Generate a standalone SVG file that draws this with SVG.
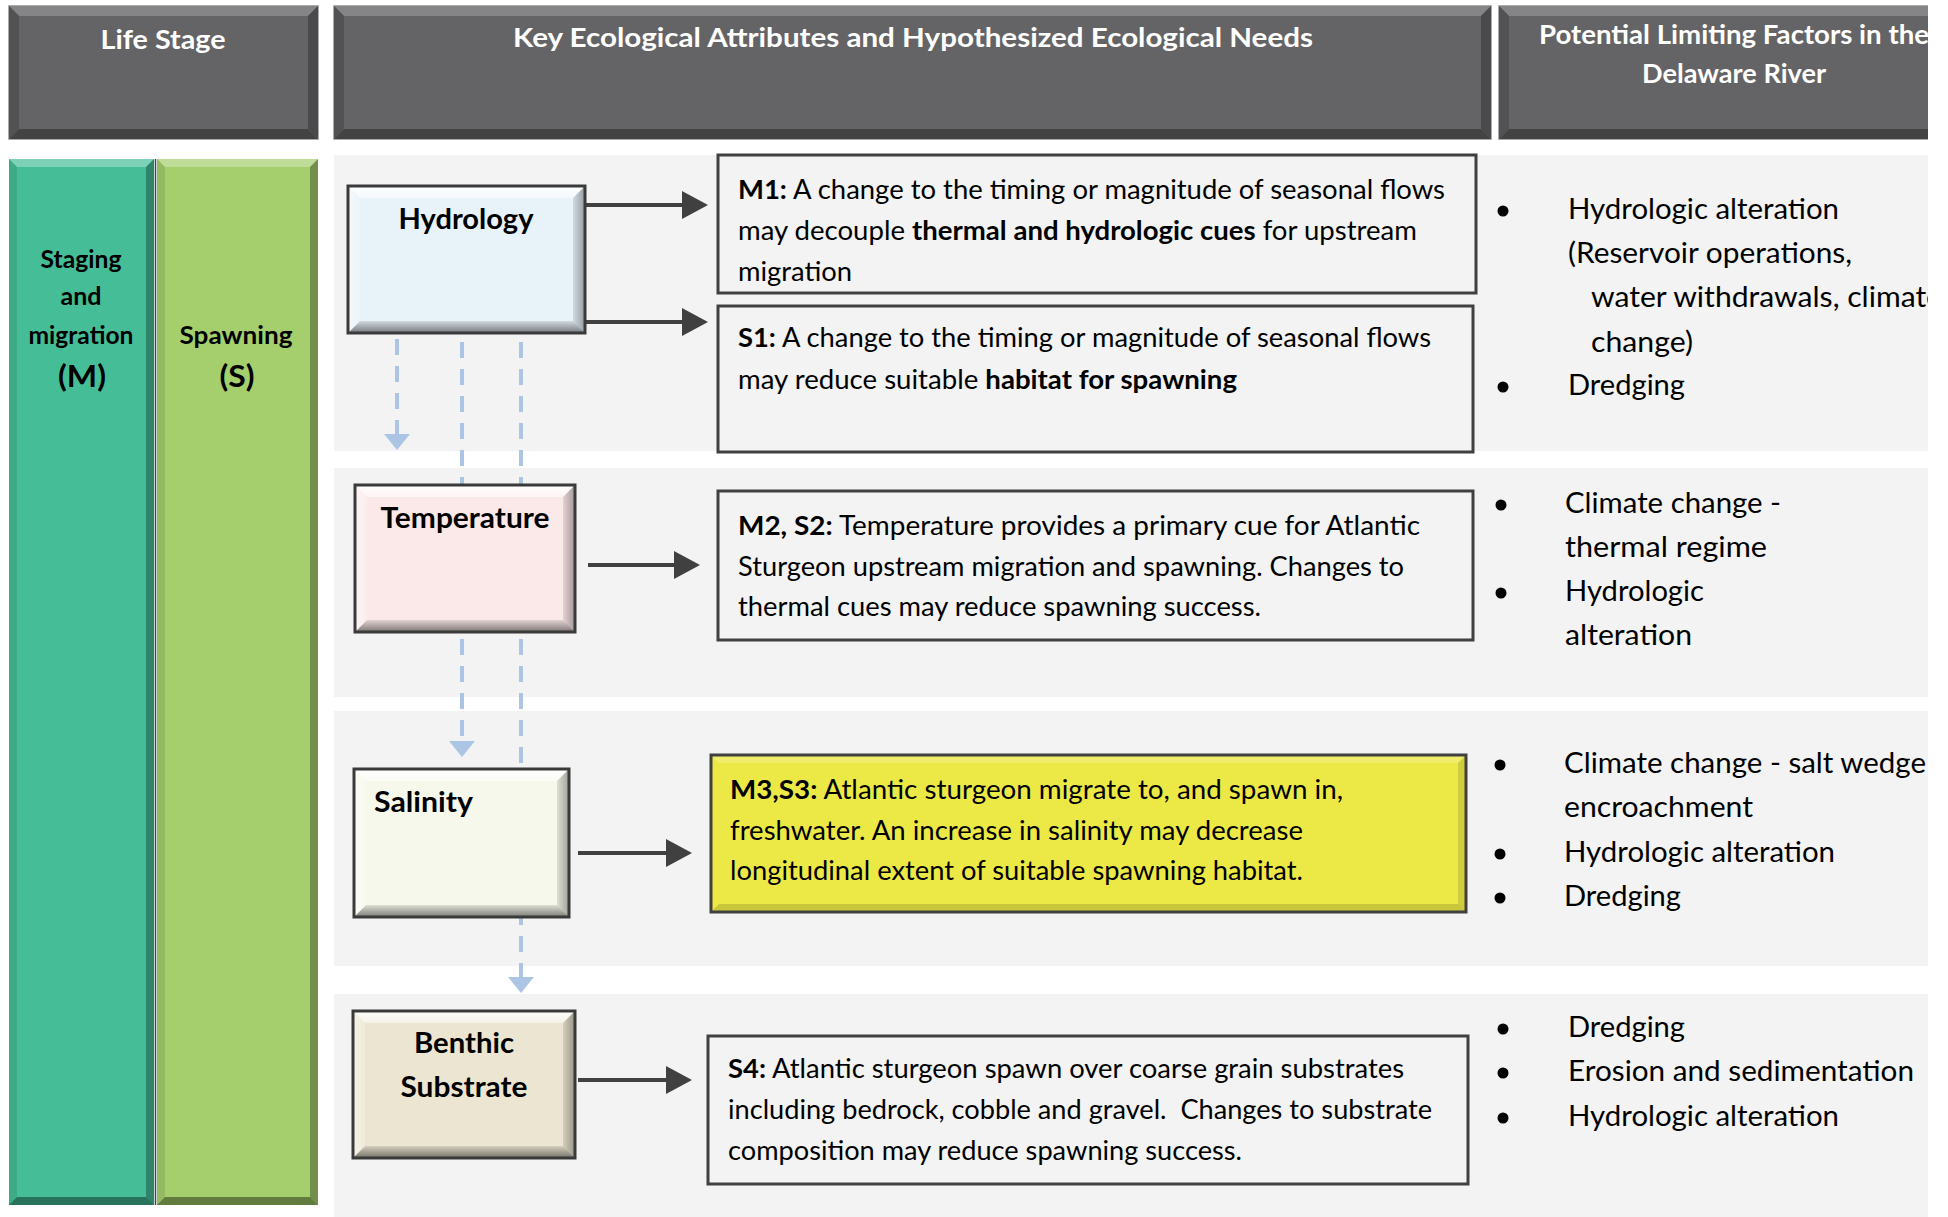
<svg xmlns="http://www.w3.org/2000/svg" width="1948" height="1217" viewBox="0 0 1948 1217">
<defs>
<style>
text{font-family:Lato,"Liberation Sans",sans-serif}
.ht{font-size:27px;font-weight:700;fill:#fff;text-anchor:middle}
.ct{font-size:24px;font-weight:700;fill:#000;text-anchor:middle}
.cp{font-size:30px;font-weight:700;fill:#000;text-anchor:middle}
.nt{font-size:28px;font-weight:700;fill:#000}
.mid{text-anchor:middle}
.bt{font-size:26px;fill:#000}
.lt{font-size:28px;fill:#000}
.b{font-weight:700}
.band{fill:#f2f3f2}
.desc{fill:none;stroke:#404040;stroke-width:3}
.obox{fill:none;stroke:#3a3a3a;stroke-width:3}
.nT{fill:url(#gT)}
.nB{fill:url(#gB)}
.nL{fill:url(#gL)}
.nR{fill:url(#gR)}
.hdr{fill:#646466;stroke:#8f8f90;stroke-width:1.5}
.hT{fill:#858587}
.hB{fill:#434344}
.hL{fill:#525254}
.hR{fill:#4a4a4c}
.cT{fill:#fff;fill-opacity:.3}
.cB{fill:#000;fill-opacity:.4}
.cL{fill:#000;fill-opacity:.1}
.cR{fill:#000;fill-opacity:.3}
.arrow{stroke:#404040;stroke-width:4;fill:none;marker-end:url(#ah)}
.dash{stroke:#adc5e4;stroke-width:4;stroke-dasharray:16 11;fill:none;marker-end:url(#dh)}
.bul{fill:#000}
</style>
<linearGradient id="gT" x1="0" y1="0" x2="0" y2="1"><stop offset="0" stop-color="#fff" stop-opacity=".95"/><stop offset="1" stop-color="#fff" stop-opacity=".5"/></linearGradient>
<linearGradient id="gB" x1="0" y1="0" x2="0" y2="1"><stop offset="0" stop-color="#000" stop-opacity=".1"/><stop offset="1" stop-color="#000" stop-opacity=".5"/></linearGradient>
<linearGradient id="gL" x1="0" y1="0" x2="1" y2="0"><stop offset="0" stop-color="#fff" stop-opacity=".5"/><stop offset="1" stop-color="#fff" stop-opacity=".2"/></linearGradient>
<linearGradient id="gR" x1="0" y1="0" x2="1" y2="0"><stop offset="0" stop-color="#000" stop-opacity=".1"/><stop offset="1" stop-color="#000" stop-opacity=".35"/></linearGradient>
<marker id="ah" markerUnits="userSpaceOnUse" markerWidth="26" markerHeight="28" refX="14" refY="14" orient="auto"><path d="M0,0 L26,14 L0,28 Z" fill="#404040"/></marker>
<marker id="dh" markerUnits="userSpaceOnUse" markerWidth="16" markerHeight="26" refX="6" refY="13" orient="auto"><path d="M0,0 L16,13 L0,26 Z" fill="#adc5e4"/></marker>
<clipPath id="clip"><rect x="0" y="0" width="1928" height="1217"/></clipPath>
</defs>
<rect x="0" y="0" width="1948" height="1217" fill="#fff"/>
<g clip-path="url(#clip)">

<g id="header-life-stage">
<rect class="hdr" x="9" y="6" width="309" height="133"/>
<polygon class="hT" points="9,6 318,6 308,16 19,16"/>
<polygon class="hB" points="9,139 318,139 308,129 19,129"/>
<polygon class="hL" points="9,6 19,16 19,129 9,139"/>
<polygon class="hR" points="318,6 308,16 308,129 318,139"/>
<text class="ht" x="163" y="49" textLength="125" lengthAdjust="spacingAndGlyphs">Life Stage</text>
</g>
<g id="header-key">
<rect class="hdr" x="334" y="6" width="1157" height="133"/>
<polygon class="hT" points="334,6 1491,6 1481,16 344,16"/>
<polygon class="hB" points="334,139 1491,139 1481,129 344,129"/>
<polygon class="hL" points="334,6 344,16 344,129 334,139"/>
<polygon class="hR" points="1491,6 1481,16 1481,129 1491,139"/>
<text class="ht" x="913" y="47" textLength="800" lengthAdjust="spacingAndGlyphs">Key Ecological Attributes and Hypothesized Ecological Needs</text>
</g>
<g id="header-limiting">
<rect class="hdr" x="1499" y="6" width="469" height="133"/>
<polygon class="hT" points="1499,6 1968,6 1958,16 1509,16"/>
<polygon class="hB" points="1499,139 1968,139 1958,129 1509,129"/>
<polygon class="hL" points="1499,6 1509,16 1509,129 1499,139"/>
<text class="ht" x="1734" y="44" textLength="390" lengthAdjust="spacingAndGlyphs">Potential Limiting Factors in the</text>
<text class="ht" x="1734" y="83" textLength="184" lengthAdjust="spacingAndGlyphs">Delaware River</text>
</g>

<g id="col-staging">
<rect x="9" y="159" width="145" height="1046" fill="#45be98"/>
<polygon class="cT" points="9,159 154,159 146,167 17,167"/>
<polygon class="cB" points="9,1205 154,1205 146,1197 17,1197"/>
<polygon class="cL" points="9,159 17,167 17,1197 9,1205"/>
<polygon class="cR" points="154,159 146,167 146,1197 154,1205"/>
<text class="ct" x="81" y="268" textLength="81" lengthAdjust="spacingAndGlyphs">Staging</text>
<text class="ct" x="81" y="305" textLength="41" lengthAdjust="spacingAndGlyphs">and</text>
<text class="ct" x="81" y="344" textLength="105" lengthAdjust="spacingAndGlyphs">migration</text>
<text class="cp" x="82" y="387" textLength="48" lengthAdjust="spacingAndGlyphs">(M)</text>
</g>
<g id="col-spawning">
<rect x="157" y="159" width="161" height="1046" fill="#a4cf6c"/>
<polygon class="cT" points="157,159 318,159 310,167 165,167"/>
<polygon class="cB" points="157,1205 318,1205 310,1197 165,1197"/>
<polygon class="cL" points="157,159 165,167 165,1197 157,1205"/>
<polygon class="cR" points="318,159 310,167 310,1197 318,1205"/>
<line x1="155.5" y1="159" x2="155.5" y2="1205" stroke="#2f4f40" stroke-width="1.5"/>
<text class="ct" x="236" y="344" textLength="113" lengthAdjust="spacingAndGlyphs">Spawning</text>
<text class="cp" x="237" y="387" textLength="35" lengthAdjust="spacingAndGlyphs">(S)</text>
</g>

<g id="bands">
<rect class="band" x="334" y="155" width="1594" height="296"/>
<rect class="band" x="334" y="468" width="1594" height="229"/>
<rect class="band" x="334" y="711" width="1594" height="255"/>
<rect class="band" x="334" y="994" width="1594" height="223"/>
</g>

<g id="connectors">
<path class="dash" d="M397,339 V440"/>
<path class="dash" d="M462,342 V747"/>
<path class="dash" d="M521,342 V983"/>
<path class="arrow" d="M585,205 H696"/>
<path class="arrow" d="M585,322 H696"/>
<path class="arrow" d="M588,565 H688"/>
<path class="arrow" d="M578,853 H680"/>
<path class="arrow" d="M578,1080 H680"/>
</g>

<g id="node-hydrology">
<rect x="348" y="186" width="237" height="147" fill="#e8f2f9"/>
<polygon class="nT" points="348,186 585,186 573,198 360,198"/>
<polygon class="nB" points="348,333 585,333 573,321 360,321"/>
<polygon class="nL" points="348,186 360,198 360,321 348,333"/>
<polygon class="nR" points="585,186 573,198 573,321 585,333"/>
<rect class="obox" x="348" y="186" width="237" height="147"/>
<text class="nt mid" x="466" y="229" textLength="135" lengthAdjust="spacingAndGlyphs">Hydrology</text>
</g>
<g id="node-temperature">
<rect x="355" y="485" width="220" height="147" fill="#fbe9e9"/>
<polygon class="nT" points="355,485 575,485 563,497 367,497"/>
<polygon class="nB" points="355,632 575,632 563,620 367,620"/>
<polygon class="nL" points="355,485 367,497 367,620 355,632"/>
<polygon class="nR" points="575,485 563,497 563,620 575,632"/>
<rect class="obox" x="355" y="485" width="220" height="147"/>
<text class="nt mid" x="465" y="528" textLength="169" lengthAdjust="spacingAndGlyphs">Temperature</text>
</g>
<g id="node-salinity">
<rect x="354" y="769" width="215" height="148" fill="#f6f8ec"/>
<polygon class="nT" points="354,769 569,769 557,781 366,781"/>
<polygon class="nB" points="354,917 569,917 557,905 366,905"/>
<polygon class="nL" points="354,769 366,781 366,905 354,917"/>
<polygon class="nR" points="569,769 557,781 557,905 569,917"/>
<rect class="obox" x="354" y="769" width="215" height="148"/>
<text class="nt" x="374" y="812" textLength="99" lengthAdjust="spacingAndGlyphs">Salinity</text>
</g>
<g id="node-benthic">
<rect x="353" y="1011" width="222" height="147" fill="#ebe5d1"/>
<polygon class="nT" points="353,1011 575,1011 563,1023 365,1023"/>
<polygon class="nB" points="353,1158 575,1158 563,1146 365,1146"/>
<polygon class="nL" points="353,1011 365,1023 365,1146 353,1158"/>
<polygon class="nR" points="575,1011 563,1023 563,1146 575,1158"/>
<rect class="obox" x="353" y="1011" width="222" height="147"/>
<text class="nt mid" x="464" y="1053" textLength="100" lengthAdjust="spacingAndGlyphs">Benthic</text>
<text class="nt mid" x="464" y="1097" textLength="127" lengthAdjust="spacingAndGlyphs">Substrate</text>
</g>

<g id="desc-m1">
<rect class="desc" x="718" y="155" width="758" height="138"/>
<text class="bt" x="738" y="199" textLength="707" lengthAdjust="spacingAndGlyphs"><tspan class="b">M1:</tspan> A change to the timing or magnitude of seasonal flows</text>
<text class="bt" x="738" y="240" textLength="679" lengthAdjust="spacingAndGlyphs">may decouple <tspan class="b">thermal and hydrologic cues</tspan> for upstream</text>
<text class="bt" x="738" y="281" textLength="114" lengthAdjust="spacingAndGlyphs">migration</text>
</g>
<g id="desc-s1">
<rect class="desc" x="718" y="306" width="755" height="146"/>
<text class="bt" x="738" y="347" textLength="693" lengthAdjust="spacingAndGlyphs"><tspan class="b">S1:</tspan> A change to the timing or magnitude of seasonal flows</text>
<text class="bt" x="738" y="389" textLength="499" lengthAdjust="spacingAndGlyphs">may reduce suitable <tspan class="b">habitat for spawning</tspan></text>
</g>
<g id="desc-m2s2">
<rect class="desc" x="718" y="491" width="755" height="149"/>
<text class="bt" x="738" y="535" textLength="682" lengthAdjust="spacingAndGlyphs"><tspan class="b">M2, S2:</tspan> Temperature provides a primary cue for Atlantic</text>
<text class="bt" x="738" y="576" textLength="666" lengthAdjust="spacingAndGlyphs">Sturgeon upstream migration and spawning. Changes to</text>
<text class="bt" x="738" y="616" textLength="523" lengthAdjust="spacingAndGlyphs">thermal cues may reduce spawning success.</text>
</g>
<g id="desc-m3s3">
<rect x="711" y="755" width="755" height="157" fill="#ece946"/>
<polygon points="711,912 1466,912 1458,904 719,904" fill="#000" fill-opacity=".15"/>
<polygon points="1466,755 1458,763 1458,904 1466,912" fill="#000" fill-opacity=".12"/>
<polygon points="711,755 1466,755 1458,763 719,763" fill="#fff" fill-opacity=".2"/>
<rect class="desc" x="711" y="755" width="755" height="157"/>
<text class="bt" x="730" y="799" textLength="613" lengthAdjust="spacingAndGlyphs"><tspan class="b">M3,S3:</tspan> Atlantic sturgeon migrate to, and spawn in,</text>
<text class="bt" x="730" y="840" textLength="573" lengthAdjust="spacingAndGlyphs">freshwater. An increase in salinity may decrease</text>
<text class="bt" x="730" y="880" textLength="573" lengthAdjust="spacingAndGlyphs">longitudinal extent of suitable spawning habitat.</text>
</g>
<g id="desc-s4">
<rect class="desc" x="708" y="1036" width="760" height="148"/>
<text class="bt" x="728" y="1078" textLength="676" lengthAdjust="spacingAndGlyphs"><tspan class="b">S4:</tspan> Atlantic sturgeon spawn over coarse grain substrates</text>
<text class="bt" x="728" y="1119" textLength="704" lengthAdjust="spacingAndGlyphs" xml:space="preserve">including bedrock, cobble and gravel.  Changes to substrate</text>
<text class="bt" x="728" y="1160" textLength="514" lengthAdjust="spacingAndGlyphs">composition may reduce spawning success.</text>
</g>

<g id="factors-hydrology">
<circle class="bul" cx="1503" cy="211" r="5.5"/>
<circle class="bul" cx="1503" cy="387" r="5.5"/>
<text class="lt" x="1568" y="219" textLength="271" lengthAdjust="spacingAndGlyphs">Hydrologic alteration</text>
<text class="lt" x="1568" y="263" textLength="284" lengthAdjust="spacingAndGlyphs">(Reservoir operations,</text>
<text class="lt" x="1591" y="307" textLength="351" lengthAdjust="spacingAndGlyphs">water withdrawals, climate</text>
<text class="lt" x="1591" y="352" textLength="102" lengthAdjust="spacingAndGlyphs">change)</text>
<text class="lt" x="1568" y="395" textLength="117" lengthAdjust="spacingAndGlyphs">Dredging</text>
</g>
<g id="factors-temperature">
<circle class="bul" cx="1501" cy="505" r="5.5"/>
<circle class="bul" cx="1501" cy="593" r="5.5"/>
<text class="lt" x="1565" y="513" textLength="216" lengthAdjust="spacingAndGlyphs">Climate change -</text>
<text class="lt" x="1565" y="557" textLength="202" lengthAdjust="spacingAndGlyphs">thermal regime</text>
<text class="lt" x="1565" y="601" textLength="139" lengthAdjust="spacingAndGlyphs">Hydrologic</text>
<text class="lt" x="1565" y="645" textLength="127" lengthAdjust="spacingAndGlyphs">alteration</text>
</g>
<g id="factors-salinity">
<circle class="bul" cx="1500" cy="765" r="5.5"/>
<circle class="bul" cx="1500" cy="854" r="5.5"/>
<circle class="bul" cx="1500" cy="898" r="5.5"/>
<text class="lt" x="1564" y="773" textLength="362" lengthAdjust="spacingAndGlyphs">Climate change - salt wedge</text>
<text class="lt" x="1564" y="817" textLength="189" lengthAdjust="spacingAndGlyphs">encroachment</text>
<text class="lt" x="1564" y="862" textLength="271" lengthAdjust="spacingAndGlyphs">Hydrologic alteration</text>
<text class="lt" x="1564" y="906" textLength="117" lengthAdjust="spacingAndGlyphs">Dredging</text>
</g>
<g id="factors-substrate">
<circle class="bul" cx="1503" cy="1029" r="5.5"/>
<circle class="bul" cx="1503" cy="1073" r="5.5"/>
<circle class="bul" cx="1503" cy="1118" r="5.5"/>
<text class="lt" x="1568" y="1037" textLength="117" lengthAdjust="spacingAndGlyphs">Dredging</text>
<text class="lt" x="1568" y="1081" textLength="346" lengthAdjust="spacingAndGlyphs">Erosion and sedimentation</text>
<text class="lt" x="1568" y="1126" textLength="271" lengthAdjust="spacingAndGlyphs">Hydrologic alteration</text>
</g>
</g>
</svg>
